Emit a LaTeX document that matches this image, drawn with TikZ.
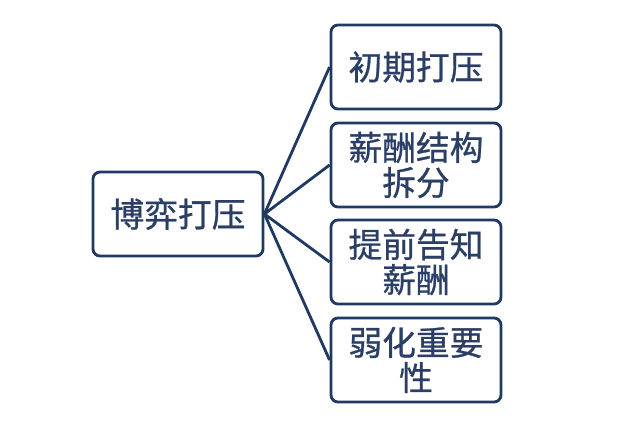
\documentclass[tikz,border=0pt]{standalone}
\usepackage{fontspec}
\setmainfont{Noto Sans CJK SC}[FakeBold=0.8]
\newfontfamily\boxfont{Noto Sans CJK SC}[FakeBold=0.8]
\usepackage{xcolor}
\usepackage{tikz}
\usetikzlibrary{positioning}

\definecolor{navy}{HTML}{1F3864}
\definecolor{inktext}{HTML}{2B3F66}

\begin{document}
\begin{tikzpicture}[x=0.025cm,y=-0.025cm,
    box/.style={draw=navy,line width=2pt,rounded corners=5pt,fill=white,
      text=inktext,align=center,minimum width=4.25cm,minimum height=2.1cm,
      inner sep=0pt,font=\boxfont\fontsize{24}{25}\selectfont},
    link/.style={navy,line width=2pt}]
    \useasboundingbox (0,0) rectangle (640,430);
    % Root
    \node[box] (root) at (178,214) {博弈打压};
    % Branches
    \node[box] (early) at (416,67) {初期打压};
    \node[box] (split) at (416,165) {薪酬结构\\拆分};
    \node[box] (notice) at (416,262) {提前告知\\薪酬};
    \node[box] (weaken) at (416,360) {弱化重要\\性};
    % Links
    \draw[link] (root.east) -- (early.west);
    \draw[link] (root.east) -- (split.west);
    \draw[link] (root.east) -- (notice.west);
    \draw[link] (root.east) -- (weaken.west);
\end{tikzpicture}
\end{document}
